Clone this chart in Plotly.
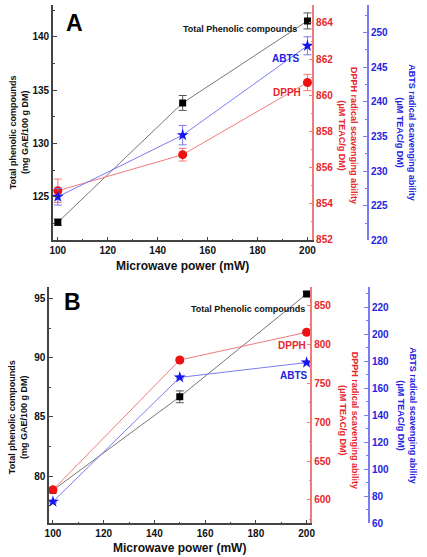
import plotly.graph_objects as go

# ---------------- data ----------------
power = [100, 150, 200]

# Panel A
tpc_A = [122.6, 133.8, 141.5]
tpc_A_err = [0.3, 0.7, 0.75]
dpph_A = [854.7, 856.7, 860.7]
dpph_A_err = [0.65, 0.35, 0.45]
abts_A = [226.3, 235.2, 248.1]
abts_A_err = [1.2, 1.4, 1.3]

# Panel B
tpc_B = [78.8, 86.7, 95.4]
tpc_B_err = [0.2, 0.5, 0.2]
dpph_B = [613.0, 780.0, 815.6]
dpph_B_err = [3.0, 3.0, 3.0]
abts_B = [76.0, 168.0, 179.0]
abts_B_err = [1.0, 1.0, 1.0]

# ---------------- style ----------------
W, H = 427, 557
FONT = "Liberation Sans, Arial, sans-serif"
BLACK = "#111111"
RED = "#e8262c"
RED_L = "#f27a7a"
BLUE = "#2424e0"
BLUE_L = "#7b7bf0"
GREY = "#555555"


def px(x):
    return x / W


def py(y):
    return 1 - y / H


fig = go.Figure()


def add_panel(tpc, tpc_err, dpph, dpph_err, abts, abts_err, xa, ya, ya_red, ya_blue):
    fig.add_trace(go.Scatter(
        x=power, y=tpc, xaxis=xa, yaxis=ya, mode="lines+markers",
        line=dict(color="#777777", width=1),
        marker=dict(symbol="square", size=7, color="black"),
        error_y=dict(type="data", array=tpc_err, color=GREY, thickness=1, width=4),
        showlegend=False))
    fig.add_trace(go.Scatter(
        x=power, y=dpph, xaxis=xa, yaxis=ya_red, mode="lines+markers",
        line=dict(color=RED_L, width=1),
        marker=dict(symbol="circle", size=9, color="#ee1111"),
        error_y=dict(type="data", array=dpph_err, color=RED_L, thickness=1, width=4),
        showlegend=False))
    fig.add_trace(go.Scatter(
        x=power, y=abts, xaxis=xa, yaxis=ya_blue, mode="lines+markers",
        line=dict(color=BLUE_L, width=1),
        marker=dict(symbol="star", size=9, color="#1515ee"),
        error_y=dict(type="data", array=abts_err, color=BLUE_L, thickness=1, width=4),
        showlegend=False))


add_panel(tpc_A, tpc_A_err, dpph_A, dpph_A_err, abts_A, abts_A_err, "x", "y", "y2", "y3")
add_panel(tpc_B, tpc_B_err, dpph_B, dpph_B_err, abts_B, abts_B_err, "x2", "y4", "y5", "y6")

tickfont = dict(family=FONT, size=10, color=BLACK, weight="bold")


def xaxis_cfg(domain, rng, anchor):
    return dict(domain=domain, range=rng, anchor=anchor,
                showline=True, linecolor="#444444", linewidth=1.5,
                ticks="inside", ticklen=4, tickcolor="#444444",
                tickvals=[100, 120, 140, 160, 180, 200],
                minor=dict(ticks="inside", ticklen=2, dtick=10, tickcolor="#444444"),
                showgrid=False, zeroline=False, tickfont=tickfont,
                title=dict(text="Microwave power (mW)",
                           font=dict(family=FONT, size=12, color=BLACK, weight="bold"),
                           standoff=6))


def yleft(domain, rng, anchor, dtick, mdt):
    return dict(domain=domain, range=rng, anchor=anchor,
                showline=True, linecolor="#444444", linewidth=1.5,
                ticks="inside", ticklen=4, tickcolor="#444444", dtick=dtick,
                minor=dict(ticks="inside", ticklen=2, dtick=mdt, tickcolor="#444444"),
                showgrid=False, zeroline=False, tickfont=tickfont)


def yright(overlay, rng, color, lcolor, dtick, mdt, anchor=None, position=None):
    d = dict(overlaying=overlay, side="right", range=rng,
             showline=True, linecolor=lcolor, linewidth=1.5,
             ticks="inside", ticklen=4, tickcolor=lcolor, dtick=dtick,
             minor=dict(ticks="inside", ticklen=2, dtick=mdt, tickcolor=lcolor),
             showgrid=False, zeroline=False,
             tickfont=dict(family=FONT, size=10, color=color, weight="bold"))
    if position is not None:
        d["anchor"] = "free"
        d["position"] = position
    else:
        d["anchor"] = anchor
    return d


domA_x = [px(50), px(315)]
domA_y = [py(243), py(5)]
domB_x = [px(46), px(313)]
domB_y = [py(529), py(290)]

fig.update_layout(
    width=W, height=H,
    margin=dict(l=0, r=0, t=0, b=0),
    paper_bgcolor="white", plot_bgcolor="rgba(0,0,0,0)",
    font=dict(family=FONT),
    xaxis=xaxis_cfg(domA_x, [98.04, 201.96], "y"),
    yaxis=yleft(domA_y, [120.9, 143.0], "x", 5, 2.5),
    yaxis2=yright("y", [851.95, 865.0], RED, RED_L, 2, 1, anchor="x"),
    yaxis3=yright("y", [220.0, 254.0], BLUE, BLUE_L, 5, 2.5, position=px(372)),
    xaxis2=xaxis_cfg(domB_x, [98.46, 201.5], "y4"),
    yaxis4=yleft(domB_y, [76.0, 96.0], "x2", 5, 2.5),
    yaxis5=yright("y4", [570.0, 874.0], RED, RED_L, 50, 25, anchor="x2"),
    yaxis6=yright("y4", [60.0, 235.0], BLUE, BLUE_L, 20, 10, position=px(373)),
)

ann = []


def A(text, x, y, size, color, angle=0, xanchor="center"):
    ann.append(dict(text=text, x=px(x), y=py(y), xref="paper", yref="paper",
                    showarrow=False, textangle=angle, xanchor=xanchor, yanchor="middle",
                    font=dict(family=FONT, size=size, color=color, weight="bold")))


# panel letters
A("A", 72, 23, 23, "black")
A("B", 70, 305, 23, "black")

# series labels A
A("Total Phenolic compounds", 301, 29, 9, BLACK, xanchor="right")
A("ABTS", 288, 59, 10, BLUE)
A("DPPH", 289, 94, 10, RED)
# series labels B
A("Total Phenolic compounds", 310, 312, 9, BLACK, xanchor="right")
A("DPPH", 294, 349, 10, RED)
A("ABTS", 296, 380, 10, BLUE)

# y titles
A("Total phenolic compounds<br>(mg GAE/100 g DM)", 15, 134, 9, BLACK, angle=-90)
A("Total phenolic compounds<br>(mg GAE/100 g DM)", 15, 422, 9, BLACK, angle=-90)
A("DPPH radical scavenging ability<br>(μM TEAC/g DM)", 352, 137, 9, RED, angle=90)
A("DPPH radical scavenging ability<br>(μM TEAC/g DM)", 352, 425, 9, RED, angle=90)
A("ABTS radical scavenging ability<br>(μM TEAC/g DM)", 411, 134, 9, BLUE, angle=90)
A("ABTS radical scavenging ability<br>(μM TEAC/g DM)", 411, 420, 9, BLUE, angle=90)

fig.update_layout(annotations=ann)

fig.write_html("out.html")
